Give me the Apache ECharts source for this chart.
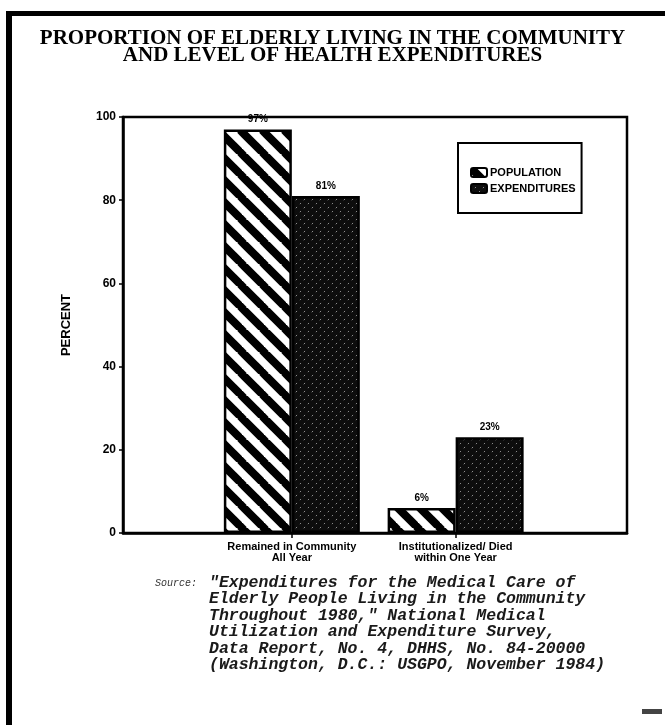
<!DOCTYPE html>
<html>
<head>
<meta charset="utf-8">
<title>Proportion of Elderly Living in the Community</title>
<script src="https://cdn.jsdelivr.net/npm/echarts@6/dist/echarts.min.js"></script>
<style>
  html, body { margin: 0; padding: 0; background: #fff; }
  #chart { width: 665px; height: 725px; }
</style>
</head>
<body>
<div id="chart"></div>
<script>
// Groups and their values (percent)
const categories = ['Remained in Community\nAll Year', 'Institutionalized/ Died\nwithin One Year'];
const population = [97, 6];
const expenditures = [81, 23];
const seriesNames = ['POPULATION', 'EXPENDITURES'];

const titleLines = ['PROPORTION OF ELDERLY LIVING IN THE COMMUNITY', 'AND LEVEL OF HEALTH EXPENDITURES'];
const sourceLabel = 'Source:';
const sourceLines = [
  '"Expenditures for the Medical Care of',
  'Elderly People Living in the Community',
  'Throughout 1980," National Medical',
  'Utilization and Expenditure Survey,',
  'Data Report, No. 4, DHHS, No. 84-20000',
  '(Washington, D.C.: USGPO, November 1984)'
];

// Where each group sits along the horizontal value scale (0..10)
const groupPos = [3.35, 6.6];

// Diagonal stripe fill for the population bars
function stripeTile() {
  const s = 22;
  const c = document.createElement('canvas');
  c.width = s; c.height = s;
  const g = c.getContext('2d');
  g.fillStyle = '#fff';
  g.fillRect(0, 0, s, s);
  g.strokeStyle = '#000';
  g.lineWidth = 8;
  for (let k = -1; k <= 1; k++) {
    g.beginPath();
    g.moveTo(k * s - 2, -2);
    g.lineTo(k * s + s + 2, s + 2);
    g.stroke();
  }
  return c;
}

// Dense dark grain for the expenditure bars
function hatchTile() {
  const s = 8;
  const c = document.createElement('canvas');
  c.width = s; c.height = s;
  const g = c.getContext('2d');
  g.fillStyle = '#0d0d0d';
  g.fillRect(0, 0, s, s);
  g.strokeStyle = 'rgba(255,255,255,0.55)';
  g.lineWidth = 1;
  g.setLineDash([1.5, 4]);
  for (let k = 0; k <= 1; k++) {
    g.beginPath();
    g.moveTo(k * s - s, s);
    g.lineTo(k * s, 0);
    g.stroke();
  }
  return c;
}

const stripeFill = { image: stripeTile(), repeat: 'repeat' };
const hatchFill = { image: hatchTile(), repeat: 'repeat' };

const chart = echarts.init(document.getElementById('chart'), null, { renderer: 'canvas' });

const labelStyle = {
  show: true,
  position: 'top',
  distance: 5,
  formatter: p => p.value[1] + '%',
  fontFamily: 'Liberation Sans',
  fontWeight: 'bold',
  fontSize: 10,
  color: '#000'
};

function nearestGroup(v) {
  let best = 0;
  groupPos.forEach((p, i) => { if (Math.abs(p - v) < Math.abs(groupPos[best] - v)) best = i; });
  return best;
}

const titleFont = { fontFamily: 'Liberation Serif', fontWeight: 'bold', fontSize: 21, color: '#000' };

const option = {
  backgroundColor: '#fff',
  animation: false,
  title: [
    { text: titleLines[0], left: 'center', top: 23, textStyle: titleFont },
    { text: titleLines[1], left: 'center', top: 40, textStyle: titleFont }
  ],
  legend: {
    orient: 'vertical',
    left: 458,
    top: 143,
    padding: [24, 6, 19, 12],
    itemGap: 5,
    itemWidth: 16,
    itemHeight: 9,
    borderColor: '#000',
    borderWidth: 2,
    data: seriesNames,
    selectedMode: false,
    textStyle: { fontFamily: 'Liberation Sans', fontWeight: 'bold', fontSize: 11, color: '#000', padding: [0, 0, 0, -2] }
  },
  grid: {
    left: 123,
    right: 38,
    top: 117,
    bottom: 192,
    show: true,
    borderColor: '#000',
    borderWidth: 2.5,
    backgroundColor: 'transparent'
  },
  xAxis: {
    type: 'value',
    min: 0,
    max: 10,
    axisLine: { show: true, onZero: false, lineStyle: { color: '#000', width: 2.5 } },
    axisTick: { show: true, customValues: groupPos, length: 5, lineStyle: { color: '#000', width: 1.5 } },
    splitLine: { show: false },
    axisLabel: {
      customValues: groupPos,
      formatter: v => categories[nearestGroup(v)],
      fontFamily: 'Liberation Sans',
      fontWeight: 'bold',
      fontSize: 11,
      lineHeight: 11,
      color: '#000',
      margin: 8
    }
  },
  yAxis: {
    type: 'value',
    min: 0,
    max: 100,
    interval: 20,
    name: 'PERCENT',
    nameLocation: 'middle',
    nameGap: 50,
    nameTextStyle: { fontFamily: 'Liberation Sans', fontWeight: 'bold', fontSize: 13, color: '#000' },
    axisLine: { show: true, lineStyle: { color: '#000', width: 2.5 } },
    axisTick: { show: true, length: 4, lineStyle: { color: '#000', width: 1.5 } },
    splitLine: { show: false },
    axisLabel: { fontFamily: 'Liberation Sans', fontWeight: 'bold', fontSize: 12, color: '#000', margin: 7 }
  },
  series: [
    {
      name: seriesNames[0],
      type: 'bar',
      barWidth: 68,
      barGap: '0%',
      data: categories.map((c, i) => [groupPos[i], population[i]]),
      itemStyle: { color: stripeFill, borderColor: '#000', borderWidth: 2.5 },
      label: labelStyle
    },
    {
      name: seriesNames[1],
      type: 'bar',
      barWidth: 68,
      barGap: '0%',
      data: categories.map((c, i) => [groupPos[i], expenditures[i]]),
      itemStyle: { color: hatchFill, borderColor: '#000', borderWidth: 2.5 },
      label: labelStyle
    }
  ],
  graphic: [
    // page frame
    { type: 'rect', shape: { x: 6, y: 11, width: 659, height: 5 }, style: { fill: '#000' } },
    { type: 'rect', shape: { x: 6, y: 11, width: 6, height: 714 }, style: { fill: '#000' } },
    {
      type: 'text',
      left: 155,
      top: 578,
      style: { text: sourceLabel, font: 'italic 10px "Liberation Mono"', fill: '#333' }
    },
    {
      type: 'text',
      left: 209,
      top: 574,
      style: {
        text: sourceLines.join('\n'),
        font: 'italic bold 16.5px "Liberation Mono"',
        lineHeight: 16.5,
        fill: '#1a1a1a'
      }
    },
    { type: 'rect', shape: { x: 642, y: 709, width: 20, height: 5 }, style: { fill: '#444' } }
  ]
};

chart.setOption(option);
</script>
</body>
</html>
